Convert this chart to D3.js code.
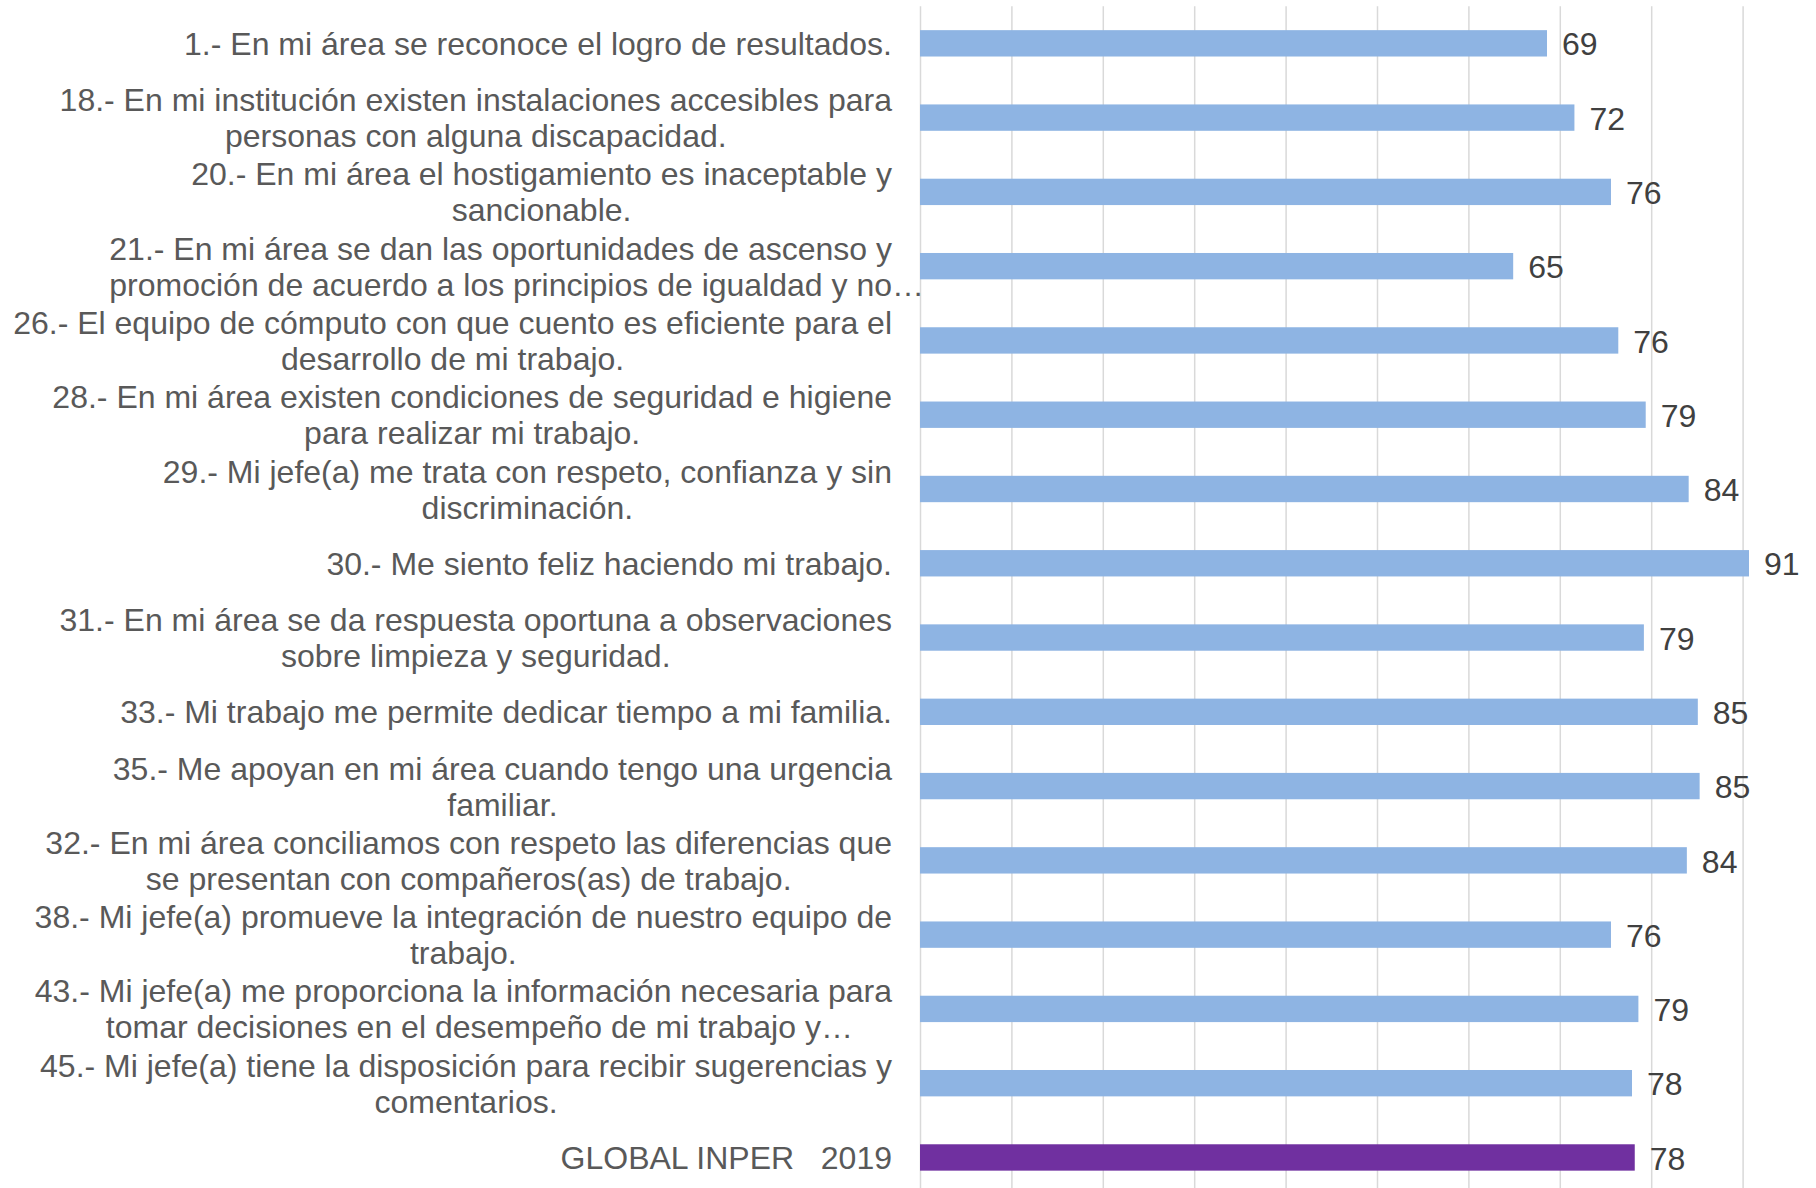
<!DOCTYPE html>
<html><head><meta charset="utf-8">
<script src="https://cdn.jsdelivr.net/npm/d3@7"></script>
<style>html,body{margin:0;padding:0;background:#fff;} svg{display:block;}</style>
</head><body>
<script>
const categories = [
 "1.- En mi área se reconoce el logro de resultados.",
 "18.- En mi institución existen instalaciones accesibles para\npersonas con alguna discapacidad.",
 "20.- En mi área el hostigamiento es inaceptable y\nsancionable.",
 "21.- En mi área se dan las oportunidades de ascenso y\npromoción de acuerdo a los principios de igualdad y no…",
 "26.- El equipo de cómputo con que cuento es eficiente para el\ndesarrollo de mi trabajo.",
 "28.- En mi área existen condiciones de seguridad e higiene\npara realizar mi trabajo.",
 "29.- Mi jefe(a) me trata con respeto, confianza y sin\ndiscriminación.",
 "30.- Me siento feliz haciendo mi trabajo.",
 "31.- En mi área se da respuesta oportuna a observaciones\nsobre limpieza y seguridad.",
 "33.- Mi trabajo me permite dedicar tiempo a mi familia.",
 "35.- Me apoyan en mi área cuando tengo una urgencia\nfamiliar.",
 "32.- En mi área conciliamos con respeto las diferencias que\nse presentan con compañeros(as) de trabajo.",
 "38.- Mi jefe(a) promueve la integración de nuestro equipo de\ntrabajo.",
 "43.- Mi jefe(a) me proporciona la información necesaria para\ntomar decisiones en el desempeño de mi trabajo y…",
 "45.- Mi jefe(a) tiene la disposición para recibir sugerencias y\ncomentarios.",
 "GLOBAL INPER   2019"
];
const values = [68.6, 71.6, 75.6, 64.9, 76.4, 79.4, 84.1, 90.7, 79.2, 85.1, 85.3, 83.9, 75.6, 78.6, 77.9, 78.2];
const highlightIndex = [15];
const xTicks = [0, 10, 20, 30, 40, 50, 60, 70, 80, 90, 100];

const W = 1816, H = 1188;
const FONT = "'Liberation Sans', Arial, Helvetica, sans-serif";
const labelSize = 32, valueSize = 32;

const svg = d3.select("body").append("svg").attr("width", W).attr("height", H)
  .style("background", "#fff");

const x = d3.scaleLinear().domain([0, 100]).range([920, 1834]);
const y = d3.scaleBand().domain(d3.range(categories.length))
  .range([6.2, 1194.6]).paddingInner(0.645).paddingOuter(0.3225);

// gridlines
const grid = svg.append("g").attr("class", "grid")
  .call(d3.axisBottom(x).tickValues(xTicks).tickSize(1194.6 - 6.2).tickFormat(""))
  .attr("transform", "translate(0,6.2)");
grid.select(".domain").remove();
grid.selectAll(".tick line").attr("stroke", "#D9D9D9").attr("stroke-width", 1.5);

// bars
svg.append("g").selectAll("rect").data(values).join("rect")
  .attr("x", x(0))
  .attr("y", (d, i) => y(i))
  .attr("width", d => x(d) - x(0))
  .attr("height", y.bandwidth())
  .attr("fill", (d, i) => highlightIndex.includes(i) ? "#7030A0" : "#8EB4E3");

// value labels
const fmt = d3.format(".0f");
svg.append("g").selectAll("text").data(values).join("text")
  .attr("x", d => x(d) + 15)
  .attr("y", (d, i) => y(i) + y.bandwidth() / 2)
  .attr("dy", "0.38em")
  .attr("font-family", FONT).attr("font-size", valueSize)
  .attr("fill", "#404040")
  .text(d => fmt(d));

// category labels
const measure = svg.append("text").attr("font-family", FONT).attr("font-size", labelSize)
  .style("white-space", "pre");
function tw(s) { measure.text(s); return measure.node().getComputedTextLength(); }

const rightEdge = 892, lineH = 36;
const lg = svg.append("g");
categories.forEach((c, i) => {
  const lines = c.split("\n");
  const core = lines.map(l => l.endsWith("…") ? l.slice(0, -1) : l);
  const widths = core.map(tw);
  const maxW = d3.max(widths);
  const cx = rightEdge - maxW / 2;
  const cy = y(i) + y.bandwidth() / 2;
  lines.forEach((l, j) => {
    const ly = cy + (j - (lines.length - 1) / 2) * lineH;
    lg.append("text")
      .attr("x", cx - widths[j] / 2)
      .attr("y", ly)
      .attr("dy", "0.36em")
      .attr("text-anchor", "start")
      .attr("font-family", FONT).attr("font-size", labelSize)
      .attr("fill", "#595959")
      .style("white-space", "pre")
      .text(l);
  });
});
measure.remove();
</script>
</body></html>
